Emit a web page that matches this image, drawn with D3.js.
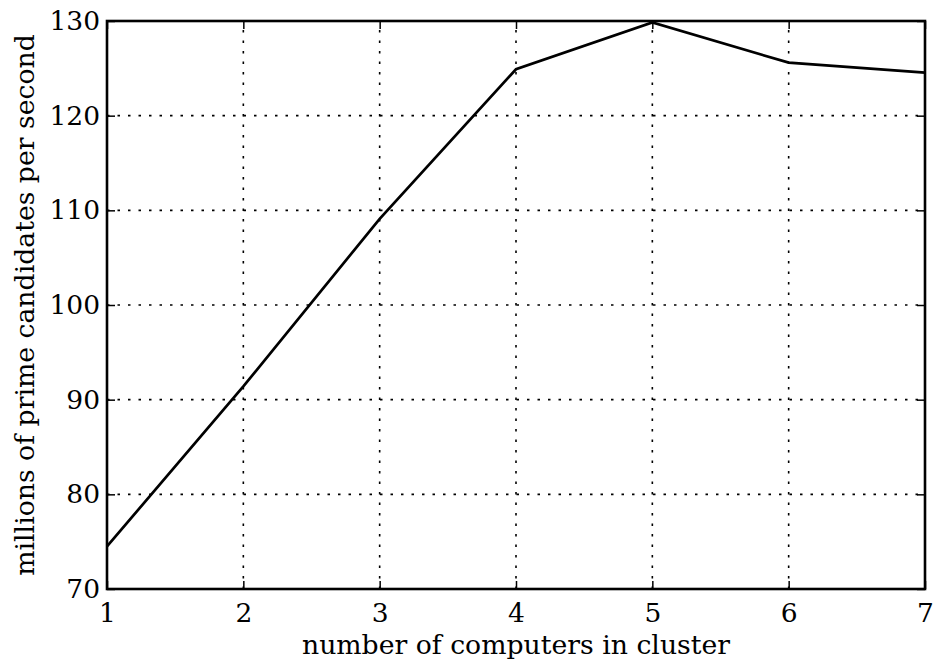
<!DOCTYPE html>
<html>
<head>
<meta charset="utf-8">
<script src="https://cdn.jsdelivr.net/npm/d3@7"></script>
<style>
  html, body { margin: 0; padding: 0; background: #fff; }
  svg { display: block; }
  text { font-family: "DejaVu Serif", serif; fill: #000; }
</style>
</head>
<body>
<svg id="chart" width="936" height="660"></svg>
<script>
// Cluster size vs. throughput
const computers = [1, 2, 3, 4, 5, 6, 7];
const candidatesPerSecond = [74.5, 91.4, 109.1, 124.9, 129.85, 125.6, 124.55];
const xTicks = [1, 2, 3, 4, 5, 6, 7];
const yTicks = [70, 80, 90, 100, 110, 120, 130];
const xLabel = "number of computers in cluster";
const yLabel = "millions of prime candidates per second";

const svg = d3.select("#chart");
const margin = { left: 107, right: 11, top: 21, bottom: 71 };
const W = 936, H = 660;
const TICK_FONT = "26.5px";
const TITLE_FONT = "26.7px";
const x = d3.scaleLinear().domain([1, 7]).range([margin.left, W - margin.right]);
const y = d3.scaleLinear().domain([70, 130]).range([H - margin.bottom, margin.top]);
const x0 = margin.left, x1 = W - margin.right, y0 = H - margin.bottom, y1 = margin.top;

// dotted grid
const grid = svg.append("g");
grid.selectAll("line.gx").data(xTicks).join("line")
  .attr("x1", d => x(d)).attr("x2", d => x(d)).attr("y1", y0).attr("y2", y1)
  .attr("stroke", "#000").attr("stroke-width", 1.6).attr("stroke-dasharray", "2.5,8");
grid.selectAll("line.gy").data(yTicks).join("line")
  .attr("y1", d => y(d)).attr("y2", d => y(d)).attr("x1", x0).attr("x2", x1)
  .attr("stroke", "#000").attr("stroke-width", 1.6).attr("stroke-dasharray", "2.5,8");

// axes with inward ticks on all four sides
const tickLen = 8;
const styleAxis = g => {
  g.select(".domain").remove();
  g.selectAll(".tick line").attr("stroke", "#000").attr("stroke-width", 1.5);
  g.selectAll(".tick text").style("font-family", "DejaVu Serif").style("font-size", TICK_FONT);
};
svg.append("g").attr("transform", `translate(0,${y0})`)
  .call(d3.axisBottom(x).tickValues(xTicks).tickFormat(d3.format("d")).tickSizeInner(-tickLen).tickSizeOuter(0).tickPadding(14))
  .call(styleAxis);
svg.append("g").attr("transform", `translate(0,${y1})`)
  .call(d3.axisTop(x).tickValues(xTicks).tickFormat("").tickSizeInner(-tickLen).tickSizeOuter(0))
  .call(styleAxis);
svg.append("g").attr("transform", `translate(${x0},0)`)
  .call(d3.axisLeft(y).tickValues(yTicks).tickFormat(d3.format("d")).tickSizeInner(-tickLen).tickSizeOuter(0).tickPadding(7))
  .call(styleAxis);
svg.append("g").attr("transform", `translate(${x1},0)`)
  .call(d3.axisRight(y).tickValues(yTicks).tickFormat("").tickSizeInner(-tickLen).tickSizeOuter(0))
  .call(styleAxis);

// data line
const line = d3.line().x((d, i) => x(computers[i])).y(d => y(d));
svg.append("path").datum(candidatesPerSecond)
  .attr("d", line).attr("fill", "none").attr("stroke", "#000")
  .attr("stroke-width", 2.7).attr("stroke-linejoin", "miter");

// frame
svg.append("rect").attr("x", x0).attr("y", y1).attr("width", x1 - x0).attr("height", y0 - y1)
  .attr("fill", "none").attr("stroke", "#000").attr("stroke-width", 2.6);

// axis titles
svg.append("text").attr("x", (x0 + x1) / 2).attr("y", 654)
  .attr("text-anchor", "middle").style("font-size", TITLE_FONT).text(xLabel);
svg.append("text").attr("transform", `translate(34,${(y0 + y1) / 2}) rotate(-90)`)
  .attr("text-anchor", "middle").style("font-size", TITLE_FONT).text(yLabel);
</script>
</body>
</html>
